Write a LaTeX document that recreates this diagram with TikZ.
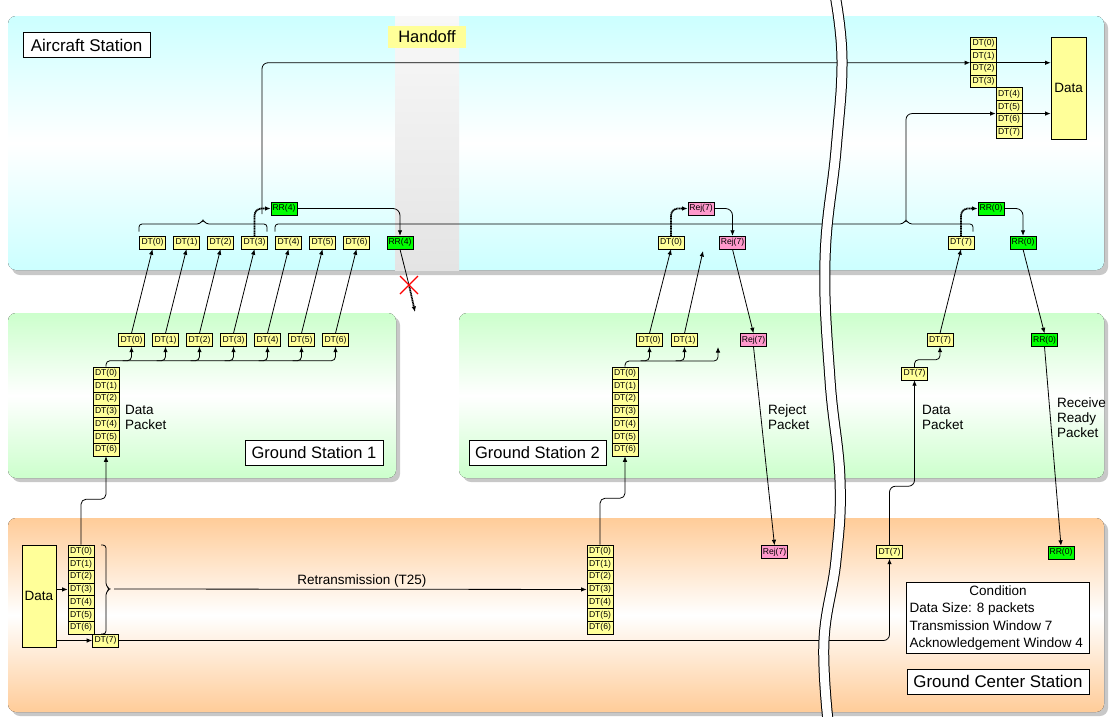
\documentclass[tikz,border=0pt]{standalone}
\usepackage{fontspec}
\setmainfont{Liberation Sans}
\usetikzlibrary{arrows.meta,calc}
\definecolor{dty}{HTML}{FFFF99}
\definecolor{rrg}{HTML}{00FF00}
\definecolor{rejp}{HTML}{FF99CC}
\definecolor{acy}{HTML}{CCFFFF}
\definecolor{gsg}{HTML}{CCFFCC}
\definecolor{gco}{HTML}{FFCC99}
\definecolor{shd}{HTML}{C8C8C8}
\definecolor{hof1}{HTML}{F8F8F8}
\definecolor{hof2}{HTML}{E4E4E4}
\begin{document}
\begin{tikzpicture}[x=1pt,y=-1pt,
  pk/.style={draw=black, line width=0.7pt, minimum width=26pt, minimum height=12.7pt, inner sep=0pt, font=\fontsize{8.6}{8.6}\selectfont},
  dt/.style={pk, fill=dty},
  rr/.style={pk, fill=rrg},
  rej/.style={pk, fill=rejp},
  conn/.style={line width=0.8pt, -{Latex[length=5.5pt,width=4.5pt]}},
  plain/.style={line width=0.8pt},
  fat/.style={line width=1.7pt, dash pattern=on 1.2pt off 0.5pt, -{Latex[length=5.5pt,width=4.5pt]}},
  ttl/.style={draw=black, line width=0.8pt, fill=white, inner sep=0pt, minimum height=25pt, font=\fontsize{16.5}{18}\selectfont},
  lbl/.style={align=left, font=\fontsize{13.5}{15}\selectfont, inner sep=0pt, anchor=west},
  bigbox/.style={draw=black, line width=0.8pt, fill=dty, inner sep=0pt, minimum width=35pt, minimum height=102pt, font=\fontsize{13.5}{15}\selectfont},
]
\useasboundingbox (0,0) rectangle (1111,716);

% ---------- bands ----------
\fill[shd, rounded corners=8pt] (12,20) rectangle (1108,275);
\fill[top color=acy, bottom color=acy, middle color=white, rounded corners=8pt] (8,16) rectangle (1104,270);
\fill[top color=hof1, bottom color=hof2] (395,16) rectangle (459,270);

\fill[shd, rounded corners=8pt] (12,317) rectangle (400,482);
\fill[top color=gsg, bottom color=gsg, middle color=white, rounded corners=8pt] (8,313) rectangle (396,478);
\fill[shd, rounded corners=8pt] (463,317) rectangle (1108,482);
\fill[top color=gsg, bottom color=gsg, middle color=white, rounded corners=8pt] (459,313) rectangle (1104,478);

\fill[shd, rounded corners=8pt] (12,522) rectangle (1108,716);
\fill[top color=gco, bottom color=gco, middle color=white, rounded corners=8pt] (8,518) rectangle (1104,712);

% ---------- titles ----------
\node[ttl, minimum width=127pt, font=\fontsize{17}{19}\selectfont] (tas) at (86.5,45) {Aircraft Station};
\node[fill=dty, inner sep=0pt, minimum width=78pt, minimum height=22pt, font=\fontsize{16.5}{18}\selectfont] (hof) at (427,37) {Handoff};
\node[ttl, minimum width=138pt] (tg1) at (314,452.5) {Ground Station 1};
\node[ttl, minimum width=137pt] (tg2) at (537.5,452.5) {Ground Station 2};
\node[ttl, minimum width=182pt, font=\fontsize{16.9}{19}\selectfont] (tgc) at (998,681.5) {Ground Center Station};
\node[draw=black, line width=0.8pt, fill=white, inner sep=3pt, align=left, font=\fontsize{13.5}{17.5}\selectfont] (cnd) at (998,618)
  {\makebox[177pt][c]{Condition}\\Data Size: 8 packets\\Transmission Window 7\\Acknowledgement Window 4};

% ---------- packet nodes ----------
\foreach \i in {0,...,6} {
  \node[dt] (a\i) at ({152.5+34*\i},242.5) {DT(\i)};
  \node[dt] (g\i) at ({131.5+34*\i},340) {DT(\i)};
  \node[dt] (s\i) at (106,{373.35+12.7*\i}) {DT(\i)};
  \node[dt] (u\i) at (625,{373.35+12.7*\i}) {DT(\i)};
  \node[dt] (q\i) at (81,{551.35+12.7*\i}) {DT(\i)};
  \node[dt] (p\i) at (600,{551.35+12.7*\i}) {DT(\i)};
}
\foreach \i in {0,...,3} \node[dt] (t\i) at (983.5,{43.35+12.7*\i}) {DT(\i)};
\foreach \i in {4,...,7} \node[dt] (t\i) at (1009,{43.35+12.7*\i}) {DT(\i)};
\node[bigbox] (dtop) at (1068.5,88) {Data};
\node[bigbox, minimum width=34pt] (dgc) at (39,596) {Data};

\node[rr] (rr4t) at (284,208.5) {RR(4)};
\node[rr] (rr4b) at (400,242.5) {RR(4)};
\node[dt] (b0) at (671,242.5) {DT(0)};
\node[rej] (rejt) at (701,208.5) {Rej(7)};
\node[rej] (rejb) at (732.5,242.5) {Rej(7)};
\node[dt] (c7) at (961,242.5) {DT(7)};
\node[rr] (rr0t) at (991,208.5) {RR(0)};
\node[rr] (rr0b) at (1023,242.5) {RR(0)};

\node[dt] (h0) at (649.5,340) {DT(0)};
\node[dt] (h1) at (684.5,340) {DT(1)};
\node[rej] (grej) at (753.5,340) {Rej(7)};
\node[dt] (d7up) at (940,340) {DT(7)};
\node[dt] (d7lo) at (914.5,373.5) {DT(7)};
\node[rr] (grr0) at (1044.5,340) {RR(0)};

\node[dt] (e7) at (105.5,640.5) {DT(7)};
\node[rej] (crej) at (774.5,552) {Rej(7)};
\node[dt] (f7) at (889.5,552) {DT(7)};
\node[rr] (crr0) at (1061,552.5) {RR(0)};

% ---------- labels ----------
\node[lbl] (l1) at (125,417) {Data\\Packet};
\node[lbl] (l2) at (768,417) {Reject\\Packet};
\node[lbl] (l3) at (922,417) {Data\\Packet};
\node[lbl] (l4) at (1057,418) {Receive\\Ready\\Packet};
\node[font=\fontsize{13.5}{15}\selectfont, inner sep=0pt] (l5) at (362,581) {Retransmission (T25)};

% ---------- coordinates ----------
\coordinate (up1) at (262,214);
\coordinate (tip2) at (906,219.5);
\coordinate (xm) at (409,285);
\coordinate (lost) at (415,312);
\coordinate (lost2) at (703,251);
\coordinate (h2) at (718,347);
\coordinate (rt) at (114,589);

% ---------- connectors ----------
\draw[conn, rounded corners=4pt] (s0.north) |- ([yshift=-14pt]g6.south) -- (g6.south);
\foreach \i in {0,...,6} {
  \draw[conn] (g\i.north) -- (a\i.south);
}
\foreach \i in {0,...,5} {
  \draw[conn, rounded corners=4pt] ([xshift=-9pt,yshift=-14pt]g\i.south) -- ([yshift=-14pt]g\i.south) -- (g\i.south);
}
\draw[conn, rounded corners=4pt] (u0.north) |- ([yshift=-14pt]h2) -- (h2);
\draw[conn, rounded corners=4pt] ([xshift=-9pt,yshift=-14pt]h0.south) -- ([yshift=-14pt]h0.south) -- (h0.south);
\draw[conn, rounded corners=4pt] ([xshift=-9pt,yshift=-14pt]h1.south) -- ([yshift=-14pt]h1.south) -- (h1.south);
\draw[conn] (h0.north) -- (b0.south);
\draw[conn] (h1.north) -- (lost2);

% braces
\draw[plain, rounded corners=3pt] (139,231.5) -- (139,224) -- (200,224) -- (203,219.5) -- (206,224) -- (267,224) -- (267,231.5);
\draw[plain, rounded corners=3pt] (275,231.5) -- (275,224) -- (903,224) -- (906,219.5) -- (909,224) -- (973,224) -- (973,231.5);
\draw[plain, rounded corners=3pt] (101,545) -- (106,545) -- (106,586) -- (110,589) -- (106,592) -- (106,634) -- (101,634);

% delivery to data
\draw[conn, rounded corners=6pt] (up1) |- (t1.south west);
\draw[conn] (t1.south east) -- (dtop.west |- t1.south east);
\draw[conn, rounded corners=6pt] (tip2) |- (t5.south west);
\draw[conn] (t5.south east) -- (dtop.west |- t5.south east);

% acknowledgements
\draw[fat, rounded corners=7pt] (a3.north) |- (rr4t.west);
\draw[fat, rounded corners=7pt] (b0.north) |- (rejt.west);
\draw[fat, rounded corners=7pt] (c7.north) |- (rr0t.west);
\draw[conn, rounded corners=7pt] (rr4t.east) -| (rr4b.north);
\draw[conn, rounded corners=7pt] (rejt.east) -| (rejb.north);
\draw[conn, rounded corners=7pt] (rr0t.east) -| (rr0b.north);

\draw[plain] (rr4b.south) -- (xm);
\draw[fat] (xm) -- (lost);
\draw[red, line width=1.1pt] (400,276) -- (418,294) (400,294) -- (418,276);

\draw[conn] (rejb.south) -- (grej.north);
\draw[conn] (grej.south) -- (crej.north);
\draw[conn] (rr0b.south) -- (grr0.north);
\draw[conn] (grr0.south) -- (crr0.north);

\draw[conn, rounded corners=4pt] (d7lo.north) |- ([yshift=-13pt]d7up.south) -- (d7up.south);
\draw[conn] (d7up.north) -- (c7.south);

% ground center
\draw[conn] (dgc.east |- q3.west) -- (q3.west);
\draw[conn] (dgc.east |- e7.west) -- (e7.west);
\draw[conn, rounded corners=5pt] (q0.north) |- ([yshift=-43pt]s6.south) -- (s6.south);
\draw[conn, rounded corners=5pt] (p0.north) |- ([yshift=-42pt]u6.south) -- (u6.south);
\draw[conn] (rt) -- (p3.west);
\draw[conn, rounded corners=6pt] (e7.east) -| (f7.south);
\draw[conn, rounded corners=6pt] (f7.north) |- ([yshift=-106pt]d7lo.south) -- (d7lo.south);

% ---------- wavy break ----------
\draw[black, line width=11pt] plot[smooth, tension=0.7] coordinates {(835,-5) (842,60) (836,150) (825,260) (830,380) (840,480) (836,560) (824,640) (828,721)};
\draw[white, line width=9pt] plot[smooth, tension=0.7] coordinates {(835,-5) (842,60) (836,150) (825,260) (830,380) (840,480) (836,560) (824,640) (828,721)};
\end{tikzpicture}
\end{document}
